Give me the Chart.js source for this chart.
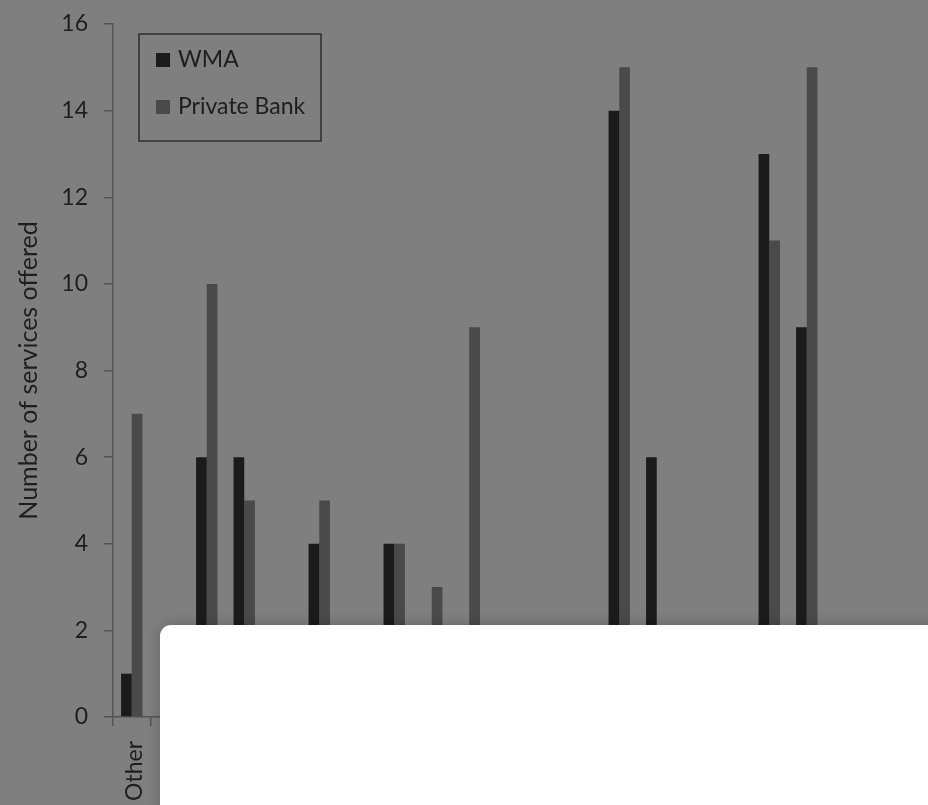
<!DOCTYPE html>
<html>
<head>
<meta charset="utf-8">
<script src="https://cdn.jsdelivr.net/npm/chart.js@4"></script>
<style>
  html, body { margin: 0; padding: 0; overflow: hidden; background: #7f7f7f; }
  #wrap { position: relative; width: 928px; height: 805px; overflow: hidden; }
  #myChart { position: absolute; left: 0; top: 0; }
  #sheet {
    position: absolute; left: 160px; top: 625px; right: -20px; bottom: -20px;
    background: #fff; border-top-left-radius: 11px;
    box-shadow: 0 0 14px rgba(0, 0, 0, 0.22);
  }
</style>
</head>
<body>
<div id="wrap">
  <canvas id="myChart" width="960" height="805"></canvas>
  <div id="sheet"></div>
</div>
<script>
const categories = ["Other", "", "", "", "", "", "", "", "", "", "", "",
  "", "", "", "", "", "", "", "", "", ""];
const wma = [1, 0, 6, 6, 0, 4, 0, 4, 0, 0, 0, 0, 0, 14, 6, 0, 0, 13, 9, 0, 0, 0];
const privateBank = [7, 0, 10, 5, 0, 5, 0, 4, 3, 9, 0, 0, 0, 15, 0, 0, 0, 11, 15, 0, 0, 0];
const yTicks = [0, 2, 4, 6, 8, 10, 12, 14, 16];

const FONT = "Lato";
const TEXT = "#1e1e1e";

// boxed legend in the upper left of the plot
const boxLegend = {
  id: "boxLegend",
  afterDraw(chart) {
    const ctx = chart.ctx;
    const area = chart.chartArea;
    const x = area.left + 26, y = area.top + 10;
    ctx.save();
    ctx.strokeStyle = "#2e2e2e";
    ctx.lineWidth = 1.5;
    ctx.strokeRect(x, y, 182, 107);
    ctx.font = "23px " + FONT;
    ctx.textBaseline = "middle";
    chart.data.datasets.forEach((ds, i) => {
      const rowY = y + 26 + i * 47;
      ctx.fillStyle = ds.backgroundColor;
      ctx.fillRect(x + 17, rowY - 7, 14, 14);
      ctx.fillStyle = TEXT;
      ctx.fillText(ds.label, x + 39, rowY);
    });
    ctx.restore();
  }
};

const ctx = document.getElementById("myChart").getContext("2d");
new Chart(ctx, {
  type: "bar",
  data: {
    labels: categories,
    datasets: [
      { label: "WMA", data: wma, backgroundColor: "#1b1b1b" },
      { label: "Private Bank", data: privateBank, backgroundColor: "#4a4a4a" }
    ]
  },
  options: {
    responsive: false,
    animation: false,
    devicePixelRatio: 1,
    categoryPercentage: 0.57,
    barPercentage: 1.0,
    layout: { padding: { top: 24, right: 22, left: 0, bottom: 0 } },
    plugins: {
      legend: { display: false },
      tooltip: { enabled: false }
    },
    scales: {
      x: {
        offset: true,
        grid: { offset: true, drawOnChartArea: false, tickLength: 9, color: "#555555", lineWidth: 1.5 },
        border: { color: "#555555", width: 1.5 },
        ticks: {
          autoSkip: false, maxRotation: 90, minRotation: 90, padding: 15, labelOffset: 3,
          color: TEXT, font: { family: FONT, size: 23 }
        },
        afterFit(scale) {
          scale.height = 805 - 717;
          scale.paddingLeft = 0;
          scale.paddingRight = 0;
        }
      },
      y: {
        min: 0, max: 16,
        afterBuildTicks(scale) { scale.ticks = yTicks.map(v => ({ value: v })); },
        grid: { drawOnChartArea: false, tickLength: 9, color: "#555555", lineWidth: 1.5 },
        border: { color: "#555555", width: 1.5 },
        ticks: { padding: 16, color: TEXT, font: { family: FONT, size: 23 } },
        title: {
          display: true, text: "Number of services offered",
          color: TEXT, font: { family: FONT, size: 25 }, padding: { top: 14, bottom: 0 }
        },
        afterFit(scale) {
          scale.width = 113;
          scale.paddingTop = 0;
          scale.paddingBottom = 0;
        }
      }
    }
  },
  plugins: [boxLegend]
});
</script>
</body>
</html>
